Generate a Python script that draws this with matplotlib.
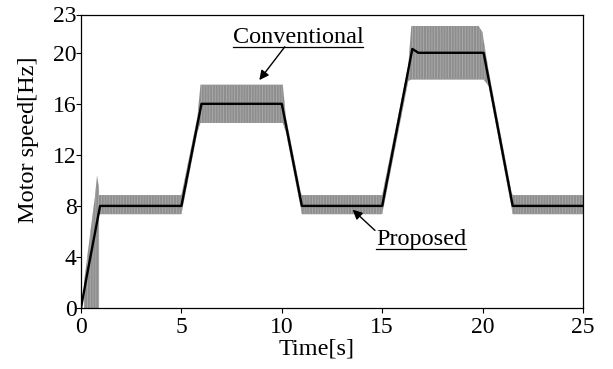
import matplotlib
matplotlib.use("Agg")
import matplotlib.pyplot as plt
import numpy as np

plt.rcParams['font.family'] = ['Liberation Serif', 'DejaVu Serif']
plt.rcParams['hatch.linewidth'] = 0.6
plt.rcParams['hatch.color'] = '#ababab'

# Proposed (black) speed profile
prop_t = [0, 0.3, 0.95, 5.0, 6.0, 10.0, 11.0, 15.0, 16.5, 16.8, 20.05, 21.5, 25]
prop_v = [0, 2.6, 8, 8, 16, 16, 8, 8, 20.3, 20.0, 20.0, 8, 8]

# Conventional (grey) oscillation envelope
conv_t  = [0.15, 0.35, 0.55, 0.7, 0.8, 0.9, 0.9, 5.0, 5.8, 5.95, 10.05, 10.2, 10.95, 11.0,
           15.0, 16.3, 16.45, 19.8, 20.0, 20.05, 20.3, 21.45, 21.5, 25.0]
conv_lo = [0.0, 0.0, 0.0, 0.0, 0.0, 0.0, 7.35, 7.35, 13.8, 14.5, 14.5, 13.8, 7.8, 7.35,
           7.35, 17.8, 17.9, 17.9, 17.9, 17.9, 17.4, 7.8, 7.35, 7.35]
conv_hi = [2.0, 4.5, 7.0, 8.8, 10.4, 9.3, 8.85, 8.85, 15.0, 17.5, 17.5, 15.0, 9.0, 8.85,
           8.85, 19.0, 22.1, 22.1, 21.6, 21.0, 18.6, 9.0, 8.85, 8.85]

xticks = [0, 5, 10, 15, 20, 25]
yticks = [0, 4, 8, 12, 16, 20, 23]

fig = plt.figure(figsize=(6.13, 3.69), dpi=100)
ax = fig.add_axes([81/613, 1-308/369, (583-81)/613, (308-14.5)/369])

ax.fill_between(conv_t, conv_lo, conv_hi, facecolor='#8e8e8e', edgecolor='none',
                linewidth=0, zorder=2)
ax.fill_between(conv_t, conv_lo, conv_hi, facecolor='none', edgecolor='#ababab',
                hatch='|' * 6, linewidth=0, zorder=2.1)
ax.plot(prop_t, prop_v, color='black', lw=1.7, zorder=3)

ax.set_xlim(0, 25)
ax.set_ylim(0, 23)
ax.set_xticks(xticks)
ax.set_yticks(yticks)
ax.tick_params(direction='out', length=3.5, width=0.8, labelsize=17)
ax.tick_params(axis='y', pad=-0.5)
ax.tick_params(axis='x', pad=3)
for s in ax.spines.values():
    s.set_linewidth(0.9)

ax.set_xlabel('Time[s]', fontsize=17.5)
ax.set_ylabel('Motor speed[Hz]', fontsize=17.5)
ax.xaxis.set_label_coords(0.469, -0.105)
ax.yaxis.set_label_coords(-0.084, 0.572)

# annotations
fs = 17.5
t1 = ax.text(7.55, 20.77, 'Conventional', fontsize=fs, ha='left', va='baseline', zorder=5)
t2 = ax.text(14.69, 4.94, 'Proposed', fontsize=fs, ha='left', va='baseline', zorder=5)
ax.annotate('', xy=(8.88, 17.86), xytext=(10.15, 20.47),
            arrowprops=dict(arrowstyle='-|>', color='black', lw=1.0, mutation_scale=14,
                            shrinkA=0, shrinkB=0))
ax.annotate('', xy=(13.53, 7.70), xytext=(14.64, 6.08),
            arrowprops=dict(arrowstyle='-|>', color='black', lw=1.0, mutation_scale=14,
                            shrinkA=0, shrinkB=0))

fig.canvas.draw()
r = fig.canvas.get_renderer()
inv = ax.transData.inverted()
for t, y in ((t1, 20.48), (t2, 4.66)):
    bb = t.get_window_extent(r)
    x0 = inv.transform((bb.x0, 0))[0]
    x1 = inv.transform((bb.x1, 0))[0]
    ax.plot([x0, x1], [y, y], color='black', lw=0.9, zorder=5, clip_on=False)

fig.savefig('out.png', dpi=100)
